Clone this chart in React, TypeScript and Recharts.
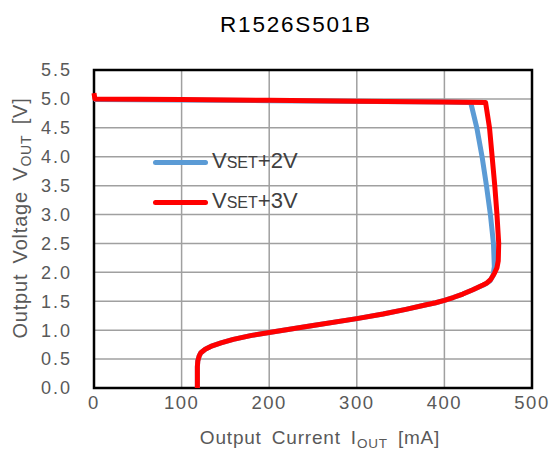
import React from 'react';
import { LineChart, Line, XAxis, YAxis, CartesianGrid, ReferenceArea, Legend, Label } from 'recharts';

const xTicks = [0, 100, 200, 300, 400, 500];
const yTicks = [0, 0.5, 1, 1.5, 2, 2.5, 3, 3.5, 4, 4.5, 5, 5.5];

const blueI = [0, 200, 400, 430, 437, 443, 448, 452.5, 456, 457, 455.5, 452, 446, 440, 432.5, 421, 410, 400, 390, 378, 356, 330, 300, 250, 200, 180, 159, 145, 135, 127, 122, 120, 118.5, 118, 118];
const blueV = [4.99, 4.97, 4.945, 4.94, 4.5, 4.0, 3.5, 3.0, 2.5, 2.1, 1.94, 1.85, 1.79, 1.75, 1.7, 1.625, 1.565, 1.515, 1.475, 1.435, 1.36, 1.28, 1.2, 1.08, 0.96, 0.91, 0.84, 0.78, 0.73, 0.67, 0.61, 0.55, 0.47, 0.37, 0];

const redI = [0, 1, 100, 200, 300, 400, 447, 451.5, 454.5, 457.5, 460, 462, 461.5, 460, 457, 453, 448, 444, 432.5, 421, 410, 400, 390, 378, 356, 330, 300, 250, 200, 180, 159, 145, 135, 127, 122, 120, 118.5, 118, 118];
const redV = [5.1, 5.0, 4.99, 4.975, 4.96, 4.945, 4.94, 4.5, 4.0, 3.5, 3.0, 2.5, 2.2, 2.08, 1.98, 1.88, 1.81, 1.78, 1.7, 1.625, 1.565, 1.515, 1.475, 1.435, 1.36, 1.28, 1.2, 1.08, 0.96, 0.91, 0.84, 0.78, 0.73, 0.67, 0.61, 0.55, 0.47, 0.37, 0];

const blueData = blueI.map((i, k) => ({ i, v: blueV[k] }));
const redData = redI.map((i, k) => ({ i, v: redV[k] }));

const FONT = '"Liberation Sans", Arial, sans-serif';
const GRAY = '#595959';

const renderLegend = (props: any) => {
  const { payload } = props;
  return (
    <div style={{ fontFamily: FONT, color: '#404040' }}>
      {(payload || []).map((p: any, idx: number) => {
        const name: string = p.value;
        return (
          <div key={idx} style={{ display: 'flex', alignItems: 'center', height: 40 }}>
            <div style={{ width: 55, height: 5, borderRadius: 3, background: p.color, marginRight: 4 }} />
            <span style={{ fontSize: 22, lineHeight: '22px', whiteSpace: 'pre' }}>
              {name.slice(0, 1)}
              <span style={{ fontSize: 16 }}>{name.slice(1, 4)}</span>
              {name.slice(4)}
            </span>
          </div>
        );
      })}
    </div>
  );
};

const XTitle = (props: any) => {
  const vb = props.viewBox || {};
  const cx = vb.x + vb.width / 2 + 7;
  const y = vb.y + 56;
  return (
    <text x={cx} y={y} textAnchor="middle" fill={GRAY} fontSize={19} fontFamily={FONT} letterSpacing={0.8} wordSpacing={4}>
      Output Current I<tspan fontSize={13.5} dy={4}>OUT</tspan><tspan dy={-4}> [mA]</tspan>
    </text>
  );
};

const YTitle = (props: any) => {
  const vb = props.viewBox || {};
  const cx = vb.x - 7;
  const cy = vb.y + vb.height / 2 - 11;
  return (
    <text x={cx} y={cy} textAnchor="middle" fill={GRAY} fontSize={20} fontFamily={FONT} letterSpacing={0.8} wordSpacing={4} transform={`rotate(-90 ${cx} ${cy})`}>
      Output Voltage V<tspan fontSize={14} dy={4}>OUT</tspan><tspan dy={-4}> [V]</tspan>
    </text>
  );
};

export default function App() {
  return (
    <div style={{ position: 'absolute', left: 0, top: 0, width: 554, height: 461, background: '#fff' }}>
      <div style={{ position: 'absolute', left: 0, width: 554, top: 14, textAlign: 'center', fontFamily: FONT, fontSize: 22.5, lineHeight: '22px', letterSpacing: 1.8, color: '#000', paddingLeft: 38, boxSizing: 'border-box' }}>
        R1526S501B
      </div>
      <LineChart width={554} height={461} margin={{ top: 70, right: 22, bottom: 13, left: 34 }}>
        <CartesianGrid stroke="#a0a0a0" strokeWidth={1.5} horizontalValues={yTicks} verticalValues={xTicks} />
        <XAxis dataKey="i" type="number" domain={[0, 500]} ticks={xTicks} interval={0} height={60}
          tickLine={false} axisLine={false} tickSize={0} tickMargin={8}
          tick={{ fill: GRAY, fontSize: 18.5, fontFamily: FONT, letterSpacing: 1.5 }}>
          <Label content={<XTitle />} />
        </XAxis>
        <YAxis type="number" domain={[0, 5.5]} ticks={yTicks} interval={0} width={60}
          tickLine={false} axisLine={false} tickSize={0} tickMargin={22}
          tickFormatter={(v: number) => v.toFixed(1)}
          tick={{ fill: GRAY, fontSize: 18, fontFamily: FONT, letterSpacing: 2 }}>
          <Label content={<YTitle />} />
        </YAxis>
        <ReferenceArea x1={0} x2={500} y1={0} y2={5.5} fill="none" stroke="#000" strokeWidth={2.5} fillOpacity={0} />
        <Legend layout="vertical" align="center" verticalAlign="middle" content={renderLegend}
          wrapperStyle={{ left: 153, top: 142, width: 180 }} />
        <Line data={blueData} dataKey="v" name="VSET+2V" stroke="#5B9BD5" strokeWidth={5} dot={false} isAnimationActive={false} strokeLinejoin="round" />
        <Line data={redData} dataKey="v" name="VSET+3V" stroke="#FF0000" strokeWidth={5} dot={false} isAnimationActive={false} strokeLinejoin="round" />
      </LineChart>
    </div>
  );
}
